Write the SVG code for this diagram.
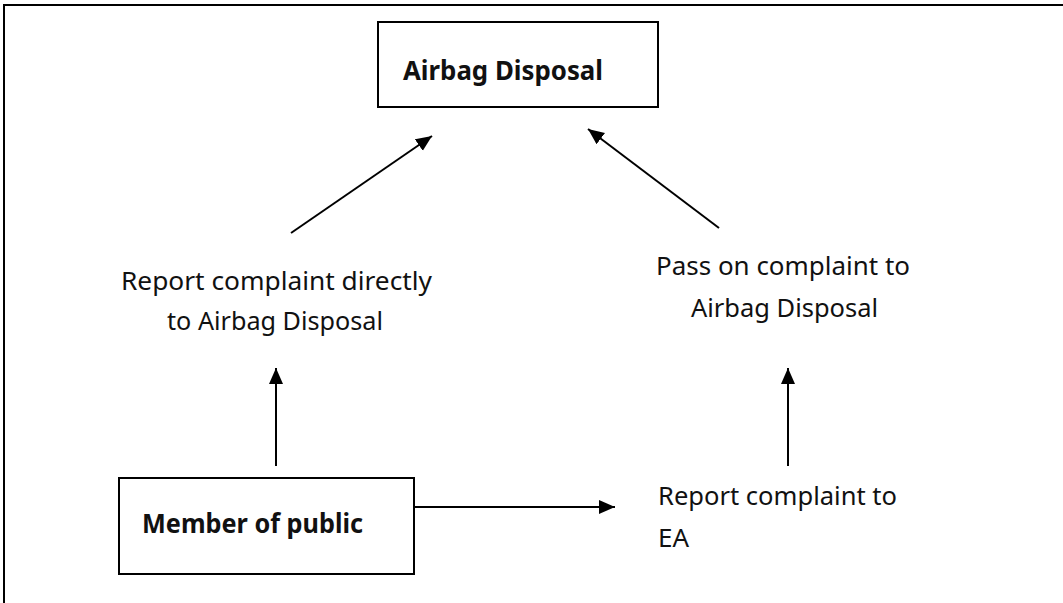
<svg xmlns="http://www.w3.org/2000/svg" width="1063" height="603" viewBox="0 0 1063 603">
<style>
.box{fill:#fff;stroke:#000;stroke-width:2}
.frame{stroke:#000;stroke-width:2;fill:none}
.conn{stroke:#000;stroke-width:2;fill:none;marker-end:url(#ah)}
.t{font-family:"Noto Sans","Liberation Sans",sans-serif;font-size:25px;fill:#111}
.b{font-weight:bold;font-size:26px}
</style>
<defs>
<marker id="ah" markerUnits="userSpaceOnUse" markerWidth="18" markerHeight="16" refX="16" refY="7" orient="auto">
<path d="M0,0 L16,7 L0,14 Z" fill="#000"/>
</marker>
</defs>
<rect width="1063" height="603" fill="#fff"/>
<g id="frame">
<path class="frame" d="M4,603 V5 H1063"/>
</g>
<g id="airbag-disposal">
<rect class="box" x="378" y="22" width="280" height="85"/>
<text class="t b" x="403" y="80" textLength="200" lengthAdjust="spacingAndGlyphs">Airbag Disposal</text>
</g>
<g id="member-of-public">
<rect class="box" x="119" y="478" width="295" height="96"/>
<text class="t b" x="142" y="533" textLength="221" lengthAdjust="spacingAndGlyphs">Member of public</text>
</g>
<g id="report-directly">
<text class="t" x="121" y="290" textLength="311" lengthAdjust="spacingAndGlyphs">Report complaint directly</text>
<text class="t" x="167" y="330" textLength="216" lengthAdjust="spacingAndGlyphs">to Airbag Disposal</text>
</g>
<g id="pass-on">
<text class="t" x="656" y="275" textLength="254" lengthAdjust="spacingAndGlyphs">Pass on complaint to</text>
<text class="t" x="691" y="317" textLength="187" lengthAdjust="spacingAndGlyphs">Airbag Disposal</text>
</g>
<g id="report-ea">
<text class="t" x="658" y="505" textLength="239" lengthAdjust="spacingAndGlyphs">Report complaint to</text>
<text class="t" x="658" y="547" textLength="31" lengthAdjust="spacingAndGlyphs">EA</text>
</g>
<g id="connectors">
<line class="conn" x1="291" y1="233" x2="432" y2="136"/>
<line class="conn" x1="719" y1="228" x2="588" y2="129"/>
<line class="conn" x1="276" y1="466" x2="276" y2="368"/>
<line class="conn" x1="788" y1="466" x2="788" y2="368"/>
<line class="conn" x1="415" y1="507" x2="615" y2="507"/>
</g>
</svg>
